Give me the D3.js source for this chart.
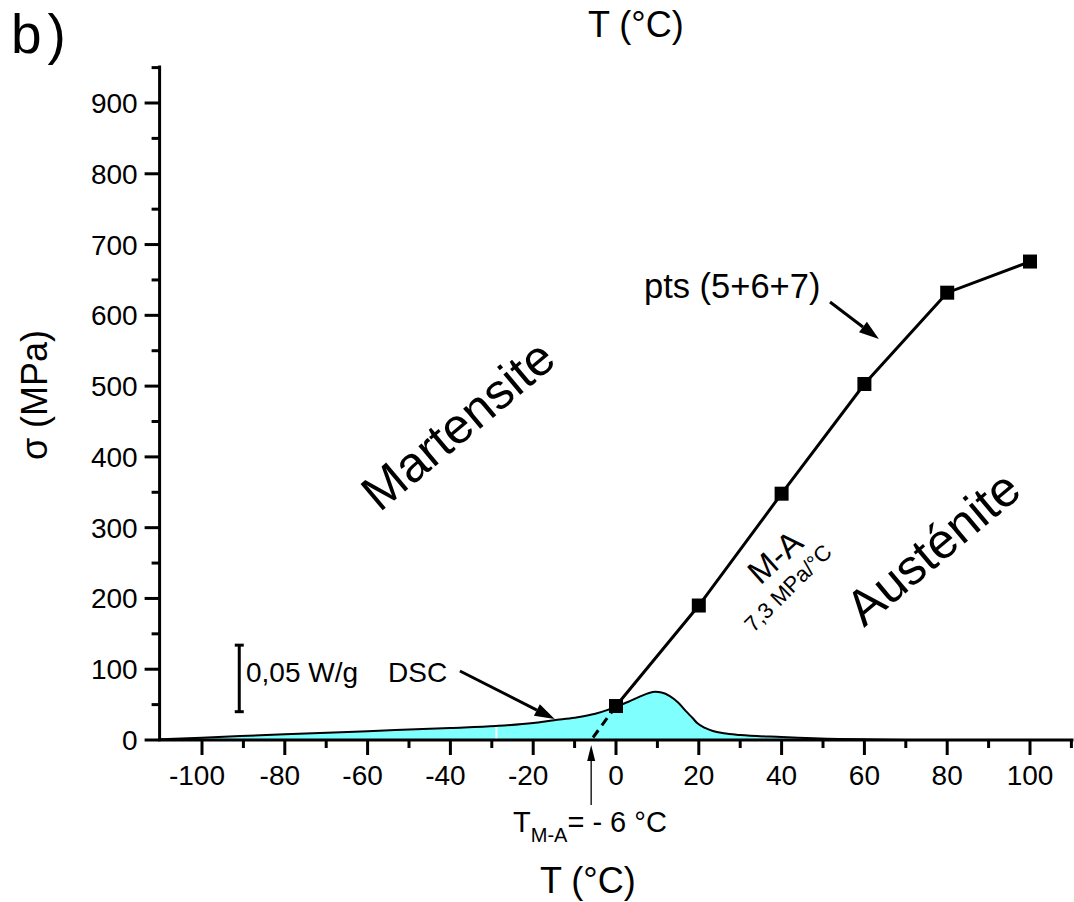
<!DOCTYPE html>
<html><head><meta charset="utf-8">
<script src="https://cdn.jsdelivr.net/npm/d3@7"></script>
<style>
html,body{margin:0;padding:0;background:#fff;}
text{font-family:"Liberation Sans",Arial,sans-serif;fill:#000;}
</style></head>
<body>
<svg id="c" width="1074" height="902"></svg>
<script>
// ---- data ----
const ptsT = [0, 20, 40, 60, 80, 100];
const ptsSigma = [48, 190, 348, 503, 632, 676];
const dscT = [-110, -100, -80, -60, -40, -29, -20, -15, -10, -5, -2, 0, 3, 6, 8, 9.5, 11, 13, 15, 17, 18.5, 19.6, 21.5, 23.4, 26, 30, 40, 54, 62, 70];
const dscV = [1, 3.3, 8, 12.5, 17, 19.8, 24, 28, 31.5, 37, 42.5, 47, 54, 62, 66.5, 68, 67, 62, 53, 40, 31, 24, 17, 12.7, 9.5, 7, 4.2, 1.4, 0.7, 0];
const xTicksMajor = [-100, -80, -60, -40, -20, 0, 20, 40, 60, 80, 100];
const yTicksMajor = [0, 100, 200, 300, 400, 500, 600, 700, 800, 900];
const TMA = -6;

const svg = d3.select("#c");
const x = d3.scaleLinear().domain([-100, 100]).range([202, 1030]);
const y = d3.scaleLinear().domain([0, 900]).range([740, 103]);
const xMin = -110, xMax = 110.5, yMax = 953;

// ---- DSC fill ----
const dsc = dscT.map((t, i) => [t, dscV[i]]);
svg.append("path").datum(dsc)
  .attr("d", d3.area().x(d => x(d[0])).y0(y(0)).y1(d => y(d[1])).curve(d3.curveMonotoneX))
  .attr("fill", "#80ffff");
// white gap artifact
svg.append("line").attr("x1", x(-28.9)).attr("x2", x(-28.9))
  .attr("y1", y(0)).attr("y2", y(18.5)).attr("stroke", "#fff").attr("stroke-width", 2);
svg.append("path").datum(dsc)
  .attr("d", d3.line().x(d => x(d[0])).y(d => y(d[1])).curve(d3.curveMonotoneX))
  .attr("fill", "none").attr("stroke", "#000").attr("stroke-width", 2);

// ---- axes ----
const gx = svg.append("g").attr("transform", `translate(0,${y(0)})`);
gx.append("line").attr("x1", x(xMin)).attr("x2", x(xMax)).attr("stroke", "#000").attr("stroke-width", 3);
gx.selectAll("line.t").data(d3.range(-100, 111, 10)).join("line")
  .attr("x1", d => x(d)).attr("x2", d => x(d)).attr("y1", 0)
  .attr("y2", d => (d % 20 === 0) ? 15 : 8).attr("stroke", "#000").attr("stroke-width", 3);
gx.selectAll("text").data(xTicksMajor).join("text")
  .attr("x", d => x(d) - (d < 0 ? 5 : 0)).attr("y", 45).attr("text-anchor", "middle")
  .attr("font-size", 28).text(d => d);

const gy = svg.append("g").attr("transform", `translate(${x(xMin) - 1},0)`);
gy.append("line").attr("y1", y(0) + 1.5).attr("y2", y(yMax)).attr("stroke", "#000").attr("stroke-width", 3);
gy.selectAll("line.t").data(d3.range(0, 951, 50)).join("line")
  .attr("y1", d => y(d)).attr("y2", d => y(d)).attr("x1", 0)
  .attr("x2", d => (d % 100 === 0) ? -15 : -8).attr("stroke", "#000").attr("stroke-width", 3);
gy.selectAll("text").data(yTicksMajor).join("text")
  .attr("x", -22).attr("y", d => y(d) + 10).attr("text-anchor", "end")
  .attr("font-size", 28).text(d => d);

// axis titles
svg.append("text").attr("x", 540).attr("y", 893).attr("font-size", 36).text("T (°C)");
svg.append("text").attr("x", 588).attr("y", 37).attr("font-size", 36).text("T (°C)");
svg.append("text").attr("transform", "translate(47,395) rotate(-90)").attr("text-anchor", "middle")
  .attr("font-size", 36).text("σ (MPa)");
svg.append("text").attr("x", 11).attr("y", 53).attr("font-size", 55).attr("letter-spacing", 6).text("b)");

// ---- dashed extrapolation ----
svg.append("line").attr("x1", x(0)).attr("y1", y(ptsSigma[0]))
  .attr("x2", x(TMA)).attr("y2", y(0))
  .attr("stroke", "#000").attr("stroke-width", 3).attr("stroke-dasharray", "9,6");

// ---- M-A line + squares ----
const pts = ptsT.map((t, i) => [t, ptsSigma[i]]);
svg.append("path").datum(pts)
  .attr("d", d3.line().x(d => x(d[0])).y(d => y(d[1])))
  .attr("fill", "none").attr("stroke", "#000").attr("stroke-width", 3);
svg.selectAll("rect.p").data(pts).join("rect")
  .attr("x", d => x(d[0]) - 7).attr("y", d => y(d[1]) - 7)
  .attr("width", 14).attr("height", 14).attr("fill", "#000");

// ---- arrows ----
function arrow(t1, s1, t2, s2, w, L, W) {
  const x1 = x(t1), y1 = y(s1), x2 = x(t2), y2 = y(s2);
  const a = Math.atan2(y2 - y1, x2 - x1);
  const bx = x2 - L * Math.cos(a), by = y2 - L * Math.sin(a);
  svg.append("line").attr("x1", x1).attr("y1", y1).attr("x2", bx).attr("y2", by)
    .attr("stroke", "#000").attr("stroke-width", w);
  const px = -Math.sin(a) * W / 2, py = Math.cos(a) * W / 2;
  svg.append("path").attr("d", `M${x2},${y2}L${bx + px},${by + py}L${bx - px},${by - py}Z`).attr("fill", "#000");
}
arrow(-37.7, 97.5, -14.8, 29.5, 3, 20, 13);
arrow(51.7, 618.8, 63.5, 566.5, 3, 20, 13);
arrow(TMA, -92, TMA, -7, 1.3, 16, 8);

// ---- scale bar ----
const sb = svg.append("g");
sb.append("line").attr("x1", x(-91)).attr("x2", x(-91)).attr("y1", y(40)).attr("y2", y(134)).attr("stroke", "#000").attr("stroke-width", 3);
[40, 134].forEach(v => sb.append("line").attr("x1", x(-91) - 4.5).attr("x2", x(-91) + 4.5)
  .attr("y1", y(v)).attr("y2", y(v)).attr("stroke", "#000").attr("stroke-width", 3));

// ---- annotation texts ----
svg.append("text").attr("x", 246).attr("y", 682).attr("font-size", 28).text("0,05 W/g");
svg.append("text").attr("x", 388).attr("y", 682).attr("font-size", 28).text("DSC");
svg.append("text").attr("x", 644).attr("y", 298).attr("font-size", 34.5).text("pts (5+6+7)");
const tma = svg.append("text").attr("x", 513).attr("y", 832).attr("font-size", 29);
tma.append("tspan").text("T");
tma.append("tspan").attr("font-size", 20).attr("dy", 10).text("M-A");
tma.append("tspan").attr("dy", -10).text("= - 6 °C");

svg.append("text").attr("transform", "translate(458,425) rotate(-40)").attr("text-anchor", "middle")
  .attr("dominant-baseline", "central").attr("font-size", 50).text("Martensite");
svg.append("text").attr("transform", "translate(933,548) rotate(-40)").attr("text-anchor", "middle")
  .attr("dominant-baseline", "central").attr("font-size", 50).text("Austénite");
svg.append("text").attr("transform", "translate(775,557) rotate(-42)").attr("text-anchor", "middle")
  .attr("dominant-baseline", "central").attr("font-size", 33).text("M-A");
svg.append("text").attr("transform", "translate(788,588) rotate(-45)").attr("text-anchor", "middle")
  .attr("dominant-baseline", "central").attr("font-size", 22).text("7,3 MPa/°C");
</script>
</body></html>
